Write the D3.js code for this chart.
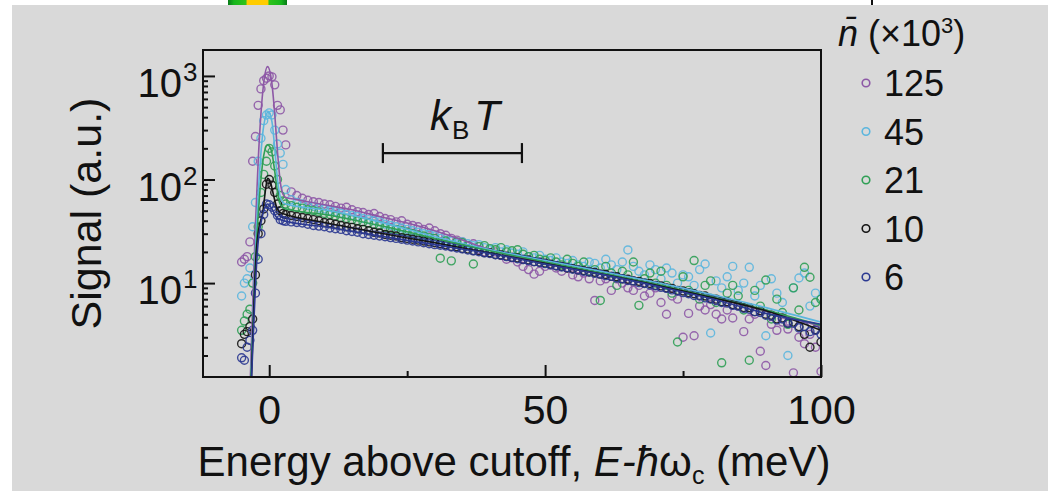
<!DOCTYPE html>
<html>
<head>
<meta charset="utf-8">
<script src="https://cdn.jsdelivr.net/npm/d3@7"></script>
<style>
  html, body { margin: 0; padding: 0; background: #ffffff; }
  svg { display: block; font-family: "Liberation Sans", Arial, Helvetica, sans-serif; }
</style>
</head>
<body>
<svg id="chart" width="1048" height="491"></svg>
<script>
// ---- Energy grid (meV above cutoff), shared by all spectra ----
const energy = [-5, -4.5, -4, -3.5, -3, -2.5, -2, -1.5, -1, -0.5, 0, 0.5, 1, 1.5, 2, 2.5, 3,
  4, 5, 6, 7, 8, 9, 10, 11, 12, 13, 14, 15, 16, 17, 18, 19, 20, 21, 22, 23, 24, 25, 26, 27, 28, 29, 30,
  31, 32, 33, 34, 35, 36, 37, 38, 39, 40, 41, 42, 43, 44, 45, 46, 47, 48, 49, 50,
  51, 52, 53, 54, 55, 56, 57, 58, 59, 60, 61, 62, 63, 64, 65, 66, 67, 68, 69, 70,
  71, 72, 73, 74, 75, 76, 77, 78, 79, 80, 81, 82, 83, 84, 85, 86, 87, 88, 89, 90,
  91, 92, 93, 94, 95, 96, 97, 98, 99, 100];

// ---- Measured signal (a.u.) for each mean photon number ----
const signal125 = [16, 17, 18, 25, 150, 260, 520, 750, 900, 950, 1000, 980, 820, 520, 470, 300, 216,
  76, 70, 66, 63, 61, 60, 58, 57, 55, 53, 54, 51, 49, 48, 46, 47, 44, 42, 41, 39, 40, 37, 36, 35, 33, 34, 32,
  30, 29, 27, 26, 25, 23, 24, 21, 20, 19.5, 20, 18.5, 17, 17.5, 16, 14.5, 13.5, 12.2, 13, 14.5,
  15, 14, 13, 14, 12, 11.5, 12.5, 11, 6.8, 10.5, 11, 8.5, 11, 10, 9, 8.5, 9.5, 7.5, 8, 9,
  6.5, 5, 7.5, 7, 3.0, 5.1, 3.1, 6, 5.5, 6.2, 5, 4.5, 5.5, 4.6, 6, 3.4, 4.5, 5, 2.2, 1.6,
  4, 3.5, 4.2, 3.6, 1.36, 3, 2.6, 3.2, 2.4, 1.4];

const signal45 = [7.5, 10, 11, 14, 35, 60, 150, 250, 370, 420, 440, 420, 300, 220, 180, 140, 80,
  64, 60, 58, 56, 55, 53, 52, 50, 49, 47, 46, 45, 44, 42, 41, 40, 39, 37, 36, 35, 34, 33, 32, 31, 30, 29.5, 28.5,
  27, 26, 25.5, 24, 25, 24, 23, 23.5, 22, 21, 22, 20, 21, 19.5, 19, 20, 18, 17.5, 18.5, 17,
  16.5, 17.5, 16, 15.5, 16.5, 15, 14.5, 16, 15.5, 14, 17, 15, 13.5, 16, 20.9, 14.5, 13, 12, 15, 13.5,
  11, 14, 12.5, 10, 12, 11.5, 9.5, 13.5, 15.3, 3.3, 10.5, 9, 11.5, 14.5, 8.5, 10, 14.2, 7.5, 9.5, 3.1,
  11, 8, 6.5, 2.0, 9, 11.2, 12.5, 6, 8.0, 7];

const signal21 = [3.5, 4.3, 5, 5.6, 10, 18, 35, 75, 112, 150, 200, 185, 135, 100, 70, 62, 58,
  56, 54, 53, 51, 50, 48.5, 47, 46, 44.5, 43, 42, 41, 40, 39, 38, 37, 36, 34.5, 33.5, 33, 32, 31, 30, 29, 28.5, 27.5, 27,
  17.4, 25.5, 16.4, 25, 24.5, 23, 15.3, 22.5, 23, 21.5, 21, 22, 20, 20.5, 21, 19, 18, 18.5, 17, 16.5,
  17.5, 16, 15, 17, 15.5, 14.5, 16, 13, 13.5, 6.8, 14.5, 12.5, 9.5, 13, 12, 16, 6.1, 11, 12.5, 10,
  13, 9.5, 8, 2.7, 11.5, 8.5, 16.5, 7, 9.5, 10.5, 6.5, 1.7, 8, 9.5, 7.5, 5.5, 1.8, 8.5, 6, 10.7,
  4.5, 7, 5.2, 4, 9, 5.5, 14.2, 11.4, 6.5, 7];

const signal10 = [2.6, 3.2, 3.4, 3.8, 4.5, 12, 30, 40, 52, 90, 100, 88, 75, 58, 50, 47, 46,
  45, 44, 43, 42, 41, 40, 38.5, 38, 37, 36, 35, 34.5, 33.5, 33, 32, 31, 30.5, 29.5, 29, 28.5, 27.5, 27, 26.5, 26, 25.5, 25, 24.5,
  24, 23.4, 22.6, 22.4, 21.6, 21.3, 20.6, 20.5, 19.7, 19.6, 18.9, 18.7, 18.2, 17.7, 17.5, 16.9, 16.7, 16.1, 15.9, 15.6,
  15.2, 14.7, 14.5, 14.0, 13.8, 13.4, 13.2, 12.8, 12.7, 12.2, 12.1, 11.6, 11.5, 11.0, 10.9, 10.5, 10.4, 10.0, 9.9, 9.5,
  9.4, 9.0, 8.9, 8.5, 8.4, 8.1, 7.9, 7.6, 7.5, 7.1, 7.0, 6.6, 6.6, 6.2, 6.1, 5.8, 5.8, 5.3, 5.4, 5.0,
  4.9, 4.5, 4.6, 4.1, 4.2, 3.8, 3.2, 2.4, 3.55, 2.7];

const signal6 = [1.9, 1.8, 2.4, 2.8, 3.5, 8, 17, 30, 46, 58, 57, 54, 50, 45, 41, 40, 39.5,
  39, 38.5, 38, 37, 36, 35.5, 35, 34, 33.5, 33, 32, 31.5, 31, 30, 29.5, 29, 28.5, 28, 27.5, 27, 26.5, 26, 25.5, 25, 24.5, 24, 23.5,
  23.2, 22.8, 22.3, 21.8, 21.4, 20.9, 20.5, 20.1, 19.6, 19.3, 18.8, 18.5, 18.0, 17.7, 17.2, 16.9, 16.5, 16.1, 15.8, 15.4,
  15.0, 14.7, 14.3, 14.1, 13.6, 13.4, 13.0, 12.8, 12.4, 12.2, 11.8, 11.6, 11.2, 11.0, 10.6, 10.5, 10.1, 9.9, 9.6, 9.4,
  9.1, 8.9, 8.6, 8.4, 8.1, 7.9, 7.6, 7.5, 7.2, 7.0, 6.8, 6.5, 6.4, 6.1, 6.0, 5.7, 5.6, 5.3, 5.2, 4.9,
  4.8, 4.4, 4.5, 4.1, 4.1, 3.7, 3.8, 3.4, 3.5, 3.2];

// ---- Model fits (energy knots and fitted signal) ----
const fitEnergy125 = [-3.5, -3.0, -2.5, -2.0, -1.5, -1.0, -0.3, 0.4, 1.0, 1.5, 2.0, 2.5, 3, 5, 10, 15, 20, 25, 30, 35, 40, 50, 60, 70, 80, 90, 100];
const fitSignal125 = [0.9, 6, 36, 150, 430, 850, 1230, 920, 430, 185, 95, 72, 67, 64, 57, 51, 44, 38, 32, 26, 21, 15.5, 12.3, 9.6, 7.3, 5.4, 3.8];

const fitEnergy45 = [-3.4, -3.0, -2.5, -2.0, -1.5, -1.0, -0.2, 0.5, 1.0, 1.5, 2.0, 2.5, 3, 10, 20, 30, 40, 50, 60, 70, 80, 90, 100];
const fitSignal45 = [0.9, 3.5, 20, 70, 180, 330, 450, 360, 200, 100, 68, 60, 58, 51, 39, 28, 21, 16.5, 13, 10.2, 7.8, 5.8, 4.2];

const fitEnergy21 = [-3.4, -3.0, -2.5, -2.0, -1.5, -1.0, -0.3, 0.4, 1.0, 1.5, 2.0, 2.5, 3, 10, 20, 30, 40, 50, 60, 70, 80, 90, 100];
const fitSignal21 = [0.9, 3, 15, 45, 100, 170, 216, 190, 120, 75, 58, 53, 52, 46, 36, 27, 20.5, 16, 12.6, 9.8, 7.4, 5.5, 3.9];

const fitEnergy10 = [-3.3, -2.85, -2.4, -1.95, -1.15, -0.6, -0.3, 0.2, 0.8, 1.3, 2, 3, 10, 20, 30, 40, 50, 60, 70, 80, 90, 100];
const fitSignal10 = [0.9, 4.8, 18, 32, 49, 85, 103, 95, 70, 55, 48, 46, 38.5, 30.5, 24.5, 19.5, 15.5, 12.3, 9.6, 7.3, 5.4, 3.5];

const fitEnergy6 = [-3.3, -2.8, -2.4, -2.0, -1.5, -1.0, -0.3, 0.5, 1.2, 2, 3, 10, 20, 30, 40, 50, 60, 70, 80, 90, 100];
const fitSignal6 = [0.9, 4, 12, 25, 38, 50, 58, 52, 44, 41, 39.5, 35, 28.5, 23.5, 19.3, 15.3, 12.2, 9.4, 7.1, 5.1, 4.0];

// ---- Legend / series labels and colours ----
const seriesLabels = ["125", "45", "21", "10", "6"];
const seriesColors = ["#8d58a6", "#5cb6de", "#2f9f55", "#151515", "#2b3991"];

// ---- Axes ----
const xDomain = [-12, 100];
const yDomain = [1.24, 1780];
const xMajorTicks = [0, 50, 100];
const xMinorTicks = [25, 75];
const yMajorTicks = [10, 100, 1000];
const yMajorExponents = ["1", "2", "3"];
const yMinorTicks = [2, 3, 4, 5, 6, 7, 8, 9, 20, 30, 40, 50, 60, 70, 80, 90, 200, 300, 400, 500, 600, 700, 800, 900];

// Thermal energy scale bar (meV), drawn at a fixed signal level
const kTStart = 20.6, kTEnd = 45.8, kTLevel = 180;

// ---------------------------------------------------------------
const W = 1048, H = 491;
const plot = { left: 203, right: 821, top: 50, bottom: 377 };
const svg = d3.select("#chart");

// page background
svg.append("rect").attr("x", 12).attr("y", 5).attr("width", W - 12).attr("height", H - 5).attr("fill", "#d9d9d9");

// colour strip along the top edge
const defs = svg.append("defs");
const grad = defs.append("linearGradient").attr("id", "strip").attr("x1", "0").attr("x2", "1").attr("y1", "0").attr("y2", "0");
[[0, "#0a7a1a"], [0.1, "#17b61c"], [0.3, "#2ec21a"], [0.33, "#ffcc00"], [0.67, "#ffcc00"], [0.7, "#2ec21a"], [0.9, "#17b61c"], [1, "#0a7a1a"]]
  .forEach(([o, c]) => grad.append("stop").attr("offset", o).attr("stop-color", c));
svg.append("rect").attr("x", 228).attr("y", 0).attr("width", 59).attr("height", 5).attr("fill", "url(#strip)");
svg.append("rect").attr("x", 871).attr("y", 0).attr("width", 2).attr("height", 5).attr("fill", "#111");

const x = d3.scaleLinear().domain(xDomain).range([plot.left, plot.right]);
const y = d3.scaleLog().domain(yDomain).range([plot.bottom, plot.top]);

defs.append("clipPath").attr("id", "plotClip")
  .append("rect").attr("x", plot.left).attr("y", plot.top)
  .attr("width", plot.right - plot.left).attr("height", plot.bottom - plot.top);

const series = [
  { label: seriesLabels[0], color: seriesColors[0], values: signal125, fitE: fitEnergy125, fitV: fitSignal125 },
  { label: seriesLabels[1], color: seriesColors[1], values: signal45, fitE: fitEnergy45, fitV: fitSignal45 },
  { label: seriesLabels[2], color: seriesColors[2], values: signal21, fitE: fitEnergy21, fitV: fitSignal21 },
  { label: seriesLabels[3], color: seriesColors[3], values: signal10, fitE: fitEnergy10, fitV: fitSignal10 },
  { label: seriesLabels[4], color: seriesColors[4], values: signal6, fitE: fitEnergy6, fitV: fitSignal6 }
];

const dataLayer = svg.append("g").attr("clip-path", "url(#plotClip)");

// measured points (open circles)
series.forEach(s => {
  dataLayer.append("g")
    .selectAll("circle")
    .data(energy.map((e, i) => [e, s.values[i]]))
    .join("circle")
    .attr("cx", d => x(d[0]))
    .attr("cy", d => y(d[1]))
    .attr("r", 4)
    .attr("fill", "none")
    .attr("stroke", s.color)
    .attr("stroke-width", 1.4)
    .attr("stroke-opacity", 0.9);
});

// fitted curves
const line = d3.line().x(d => x(d[0])).y(d => y(d[1])).curve(d3.curveMonotoneX);
series.forEach(s => {
  dataLayer.append("path")
    .datum(s.fitE.map((e, i) => [e, s.fitV[i]]))
    .attr("d", line)
    .attr("fill", "none")
    .attr("stroke", s.color)
    .attr("stroke-width", 1.6);
});

// x axis: major ticks with labels, minor ticks without (ticks point inward)
const xAxisMajor = d3.axisBottom(x).tickValues(xMajorTicks).tickSize(-12).tickSizeOuter(0).tickPadding(18);
const gx = svg.append("g").attr("transform", `translate(0,${plot.bottom})`).call(xAxisMajor);
gx.select(".domain").remove();
gx.selectAll("text").attr("font-size", 41).attr("fill", "#111").attr("font-family", "Liberation Sans, Arial, sans-serif");
const gxMinor = svg.append("g").attr("transform", `translate(0,${plot.bottom})`)
  .call(d3.axisBottom(x).tickValues(xMinorTicks).tickSize(-6).tickSizeOuter(0).tickFormat(""));
gxMinor.select(".domain").remove();

// y axis (log): major and minor ticks pointing inward
const gy = svg.append("g").attr("transform", `translate(${plot.left},0)`)
  .call(d3.axisLeft(y).tickValues(yMajorTicks).tickSize(-12).tickSizeOuter(0).tickFormat(""));
gy.select(".domain").remove();
const gyMinor = svg.append("g").attr("transform", `translate(${plot.left},0)`)
  .call(d3.axisLeft(y).tickValues(yMinorTicks).tickSize(-5).tickSizeOuter(0).tickFormat(""));
gyMinor.select(".domain").remove();

[gx, gxMinor, gy, gyMinor].forEach(g => g.selectAll(".tick line").attr("stroke", "#111").attr("stroke-width", 2));

// y tick labels as powers of ten
const yLab = svg.append("g").attr("fill", "#111");
yMajorTicks.forEach((v, i) => {
  yLab.append("text").attr("x", 182).attr("y", y(v) + 21).attr("text-anchor", "end")
    .attr("font-size", 40).text("10");
  yLab.append("text").attr("x", 183).attr("y", y(v) + 5).attr("text-anchor", "start")
    .attr("font-size", 26).text(yMajorExponents[i]);
});

// plot frame
svg.append("rect").attr("x", plot.left).attr("y", plot.top)
  .attr("width", plot.right - plot.left).attr("height", plot.bottom - plot.top)
  .attr("fill", "none").attr("stroke", "#111").attr("stroke-width", 2);

// axis titles
svg.append("text").attr("transform", `translate(101,${(plot.top + plot.bottom) / 2}) rotate(-90)`)
  .attr("text-anchor", "middle").attr("font-size", 43).attr("fill", "#111").text("Signal (a.u.)");

const xt = svg.append("text").attr("x", 514).attr("y", 476).attr("text-anchor", "middle")
  .attr("font-size", 42).attr("fill", "#111");
xt.append("tspan").text("Energy above cutoff, ");
xt.append("tspan").attr("font-style", "italic").text("E-ħ");
xt.append("tspan").text("ω");
xt.append("tspan").attr("font-size", 25).attr("dy", 8).text("c");
xt.append("tspan").attr("dy", -8).text(" (meV)");

// k_B T scale bar
const bar = svg.append("g").attr("stroke", "#111").attr("stroke-width", 2.2);
bar.append("line").attr("x1", x(kTStart)).attr("x2", x(kTEnd)).attr("y1", y(kTLevel)).attr("y2", y(kTLevel));
bar.append("line").attr("x1", x(kTStart)).attr("x2", x(kTStart)).attr("y1", y(kTLevel) - 10).attr("y2", y(kTLevel) + 10);
bar.append("line").attr("x1", x(kTEnd)).attr("x2", x(kTEnd)).attr("y1", y(kTLevel) - 10).attr("y2", y(kTLevel) + 10);
const kt = svg.append("text").attr("x", 430).attr("y", y(kTLevel) - 23)
  .attr("text-anchor", "start").attr("font-size", 42).attr("fill", "#111");
kt.append("tspan").attr("font-style", "italic").text("k");
kt.append("tspan").attr("font-size", 26).attr("dy", 9).attr("dx", 1).text("B");
kt.append("tspan").attr("dy", -9).attr("dx", 5).attr("font-style", "italic").text("T");

// legend
const lg = svg.append("g").attr("fill", "#111");
const lt = lg.append("text").attr("x", 838).attr("y", 46).attr("font-size", 36);
lt.append("tspan").attr("font-style", "italic").text("n\u0304");
lt.append("tspan").text(" (×10");
lt.append("tspan").attr("font-size", 22).attr("dy", -13).text("3");
lt.append("tspan").attr("dy", 13).text(")");
series.forEach((s, i) => {
  const cy = 83 + i * 48.5;
  lg.append("circle").attr("cx", 866).attr("cy", cy).attr("r", 3.8)
    .attr("fill", "none").attr("stroke", s.color).attr("stroke-width", 1.6);
  lg.append("text").attr("x", 884).attr("y", cy + 13).attr("font-size", 36).text(s.label);
});
</script>
</body>
</html>
